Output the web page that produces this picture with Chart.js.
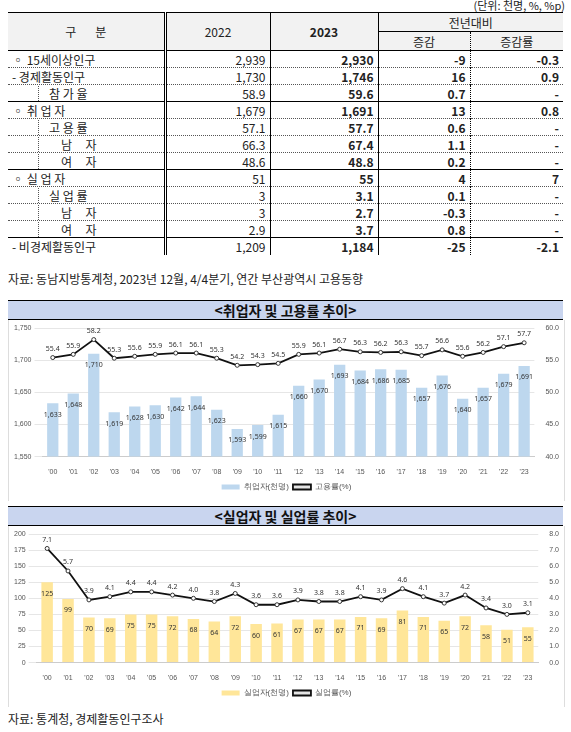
<!DOCTYPE html>
<html><head><meta charset="utf-8">
<script src="https://cdn.jsdelivr.net/npm/chart.js@4"></script>
<style>
body{margin:0;width:571px;height:732px;background:#fff;font-family:"Noto Sans CJK KR","Noto Sans",sans-serif;position:relative;overflow:hidden}
.unit{position:absolute;right:6px;top:-3px;font-size:11px;color:#222}
table{position:absolute;left:8px;top:12px;width:555px;border-collapse:collapse;table-layout:fixed;font-size:12px;color:#222}
td,th{padding:0 4px;height:17px;line-height:15px;white-space:nowrap;overflow:hidden;box-sizing:border-box}
th{font-weight:normal;background:#f2f2f2;height:19px;line-height:17px}
td.n{text-align:right}
td.b{font-weight:bold}
tr{border-top:1px dotted #555}
tr.solid{border-top:1.5px solid #000}
.c1{border-right:3px double #000}
.c2,.c3{border-right:1px solid #000}
.c4{border-right:1px dotted #000}
.src{position:absolute;left:8px;top:270px;font-size:12px;color:#222}
.title{position:absolute;left:8px;width:555px;height:18px;background:#c9d5ef;border-top:1.5px solid #000;border-bottom:1.5px solid #000;text-align:center;font-weight:bold;font-size:14px;line-height:18px;color:#111}
.box{position:absolute;left:8px;width:555px;height:181px;border-left:1px solid #ddd;border-right:1px solid #ddd}
.foot{position:absolute;left:8px;top:710px;font-size:12px;color:#222}
</style></head><body>
<div class="unit">(단위: 천명, %, %p)</div>
<table>
<colgroup><col style="width:157px"><col style="width:105px"><col style="width:108px"><col style="width:92px"><col style="width:93px"></colgroup>
<tr class="solid"><th rowspan="2" class="c1">구 &nbsp; &nbsp; &nbsp; 분</th><th rowspan="2" class="c2">2022</th><th rowspan="2" class="c3" style="font-weight:bold">2023</th><th colspan="2" style="border-bottom:1px solid #000">전년대비</th></tr>
<tr><th class="c4">증감</th><th>증감률</th></tr>
<tbody id="tb"></tbody>
</table>
<div class="src">자료: 동남지방통계청, 2023년 12월, 4/4분기, 연간 부산광역시 고용동향</div>
<div class="title" style="top:300px">&lt;취업자 및 고용률 추이&gt;</div>
<div class="box" style="top:320px"><canvas id="c1"></canvas></div>
<div class="title" style="top:506px">&lt;실업자 및 실업률 추이&gt;</div>
<div class="box" style="top:526px"><canvas id="c2"></canvas></div>
<div class="foot">자료: 통계청, 경제활동인구조사</div>
<script>
const rowLabels=["◦ 15세이상인구","- 경제활동인구","참 가 율","◦ 취 업 자","고 용 률","남 &nbsp; &nbsp; 자","여 &nbsp; &nbsp; 자","◦ 실 업 자","실 업 률","남 &nbsp; &nbsp; 자","여 &nbsp; &nbsp; 자","- 비경제활동인구"];
const rowIndent=[0,0,1,0,1,2,2,0,1,2,2,0];
const rowSolid=[1,0,0,1,0,0,0,1,0,0,0,1];
const v2022=["2,939","1,730","58.9","1,679","57.1","66.3","48.6","51","3","3","2.9","1,209"];
const v2023=["2,930","1,746","59.6","1,691","57.7","67.4","48.8","55","3.1","2.7","3.7","1,184"];
const vDiff=["-9","16","0.7","13","0.6","1.1","0.2","4","0.1","-0.3","0.8","-25"];
const vRate=["-0.3","0.9","-","0.8","-","-","-","7","-","-","-","-2.1"];
const tb=document.getElementById('tb');
rowLabels.forEach((l,i)=>{
  const tr=document.createElement('tr'); if(rowSolid[i]) tr.className='solid';
  const lab=rowIndent[i]?`<td class="c1" style="padding:0"><div style="margin-left:30px;border-left:1px dotted #555;padding-left:${rowIndent[i]==1?10:22}px">${l}</div></td>`:`<td class="c1">${l}</td>`;
  tr.innerHTML=lab+`<td class="n c2">${v2022[i]}</td><td class="n b c3">${v2023[i]}</td><td class="n b c4">${vDiff[i]}</td><td class="n b">${vRate[i]}</td>`;
  tb.appendChild(tr);
});
const years=["'00","'01","'02","'03","'04","'05","'06","'07","'08","'09","'10","'11","'12","'13","'14","'15","'16","'17","'18","'19","'20","'21","'22","'23"];
const employed=[1633,1648,1710,1619,1628,1630,1642,1644,1623,1593,1599,1615,1660,1670,1693,1684,1686,1685,1657,1676,1640,1657,1679,1691];
const empRate=[55.4,55.9,58.2,55.3,55.6,55.9,56.1,56.1,55.3,54.2,54.3,54.5,55.9,56.1,56.7,56.3,56.2,56.3,55.7,56.6,55.6,56.2,57.1,57.7];
const unemployed=[125,99,70,69,75,75,72,68,64,72,60,61,67,67,67,71,69,81,71,65,72,58,51,55];
const unRate=[7.1,5.7,3.9,4.1,4.4,4.4,4.2,4.0,3.8,4.3,3.6,3.6,3.9,3.8,3.8,4.1,3.9,4.6,4.1,3.7,4.2,3.4,3.0,3.1];

const labelPlugin={id:'lbl',afterDatasetsDraw(ch){
  const ctx=ch.ctx; ctx.save(); ctx.font='7px "Noto Sans"'; ctx.fillStyle='#333'; ctx.textAlign='center';
  ch.data.datasets.forEach((ds,di)=>{const m=ch.getDatasetMeta(di);
    m.data.forEach((el,i)=>{
      if(ds.type==='line'){ctx.textBaseline='bottom';ctx.fillText(ds.fmt(ds.data[i]),el.x,el.y-5);}
      else{ctx.textBaseline='top';ctx.fillText(ds.fmt(ds.data[i]),el.x,el.y+8);}
    });});
  ctx.restore();}};
function make(id,bars,barLabel,barColor,line,lineLabel,y,y1){
  new Chart(document.getElementById(id),{type:'bar',
    data:{labels:years,datasets:[
      {type:'line',label:lineLabel,data:line,yAxisID:'y1',borderColor:'#111',borderWidth:1.8,pointRadius:2,pointBackgroundColor:'#fff',pointBorderColor:'#333',pointBorderWidth:1,fmt:v=>v.toFixed(1),order:0},
      {label:barLabel,data:bars,yAxisID:'y',backgroundColor:barColor,barPercentage:0.55,categoryPercentage:1,fmt:v=>v.toLocaleString('en-US'),order:1}]},
    options:{responsive:true,maintainAspectRatio:false,animation:false,
      layout:{padding:{top:8,left:2,right:2}},
      plugins:{legend:{position:'bottom',reverse:true,labels:{font:{size:8},color:'#555',boxWidth:18,boxHeight:5,padding:4}},tooltip:{enabled:false}},
      scales:{x:{grid:{display:false},border:{color:'#ccc'},ticks:{font:{size:7},color:'#555'}},
        y:Object.assign({position:'left',grid:{color:'#e6e6e6'},border:{display:false}},y),
        y1:Object.assign({position:'right',grid:{display:false},border:{display:false}},y1)}},
    plugins:[labelPlugin]});
}
make('c1',employed,'취업자(천명)','#bdd7ee',empRate,'고용률(%)',{min:1550,max:1750,ticks:{stepSize:50,font:{size:7},color:'#555',callback:v=>v.toLocaleString('en-US')}},{min:40,max:60,ticks:{stepSize:5,font:{size:7},color:'#555',callback:v=>v.toFixed(1)}});
make('c2',unemployed,'실업자(천명)','#ffe699',unRate,'실업률(%)',{min:0,max:200,ticks:{stepSize:25,font:{size:7},color:'#555'}},{min:0,max:8,ticks:{stepSize:1,font:{size:7},color:'#555',callback:v=>v.toFixed(1)}});
</script>
</body></html>
